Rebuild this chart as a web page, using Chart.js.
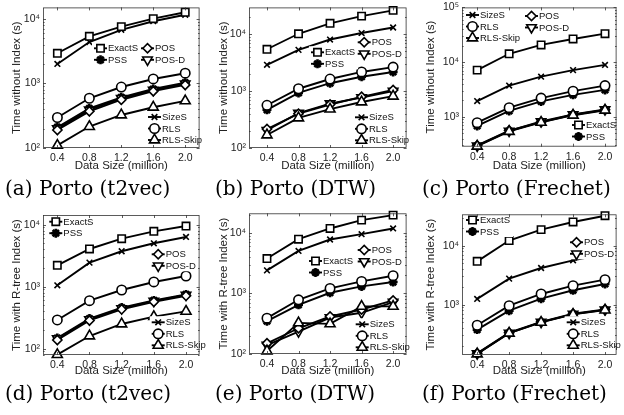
<!DOCTYPE html>
<html>
<head>
<meta charset="utf-8">
<script src="https://cdn.jsdelivr.net/npm/chart.js@4.4.0/dist/chart.umd.min.js"></script>
<style>
  body { margin: 0; background: #fff; width: 624px; height: 415px; position: relative; overflow: hidden; }
  canvas { position: absolute; }
  .cap { position: absolute; font-family: "DejaVu Serif", serif; font-size: 20px; white-space: nowrap; color: #000; }
</style>
</head>
<body>
<canvas id="ca" width="207" height="178" style="left:0px;top:0px"></canvas>
<canvas id="cb" width="207" height="178" style="left:207px;top:0px"></canvas>
<canvas id="cc" width="210" height="178" style="left:414px;top:0px"></canvas>
<canvas id="cd" width="207" height="178" style="left:0px;top:205px"></canvas>
<canvas id="ce" width="207" height="178" style="left:207px;top:205px"></canvas>
<canvas id="cf" width="210" height="178" style="left:414px;top:205px"></canvas>
<div class="cap" style="left:5px;top:176px">(a) Porto (t2vec)</div>
<div class="cap" style="left:215px;top:176px">(b) Porto (DTW)</div>
<div class="cap" style="left:422px;top:176px">(c) Porto (Frechet)</div>
<div class="cap" style="left:5px;top:381px">(d) Porto (t2vec)</div>
<div class="cap" style="left:215px;top:381px">(e) Porto (DTW)</div>
<div class="cap" style="left:422px;top:381px">(f) Porto (Frechet)</div>
<script>
// data size in million trajectories
const sizes = [0.4, 0.8, 1.2, 1.6, 2.0];
const xTicks = [0.4, 0.8, 1.2, 1.6, 2.0];
const yTickLabels = { 1: '10¹', 2: '10²', 3: '10³', 4: '10⁴', 5: '10⁵' };

// (a) t2vec, without index
const aExactS = [2940, 5380, 7600, 10100, 12700];
const aSizeS = [2010, 4380, 6780, 9220, 11600];
const aPSS = [210, 410, 610, 820, 1030];
const aPOS = [190, 370, 560, 760, 950];
const aPOSD = [200, 390, 590, 790, 990];
const aRLS = [297, 590, 881, 1175, 1442];
const aRLSSkip = [110, 215, 325, 428, 538];

// (b) DTW, without index
const bExactS = [5400, 10100, 15400, 20600, 26000];
const bSizeS = [2880, 5270, 8000, 10400, 13000];
const bPSS = [468, 925, 1370, 1780, 2160];
const bPOS = [215, 400, 580, 790, 1040];
const bPOSD = [205, 410, 600, 770, 1000];
const bRLS = [562, 1096, 1623, 2160, 2630];
const bRLSSkip = [169, 337, 481, 641, 811];

// (c) Frechet, without index
const cExactS = [7130, 14200, 20600, 26500, 33100];
const cSizeS = [1940, 3720, 5410, 7130, 8890];
const cPSS = [680, 1280, 1910, 2520, 3100];
const cPOS = [300, 560, 800, 1090, 1340];
const cPOSD = [295, 550, 820, 1100, 1360];
const cRLS = [780, 1470, 2200, 2940, 3720];
const cRLSSkip = [290, 540, 790, 1070, 1320];

// (d) t2vec, with R-tree index
const dExactS = [2210, 4050, 5940, 7800, 9500];
const dSizeS = [1050, 2440, 3720, 5000, 6330];
const dPSS = [148, 305, 460, 600, 750];
const dPOS = [138, 285, 430, 570, 710];
const dPOSD = [145, 295, 445, 585, 735];
const dRLS = [290, 594, 883, 1190, 1485];
const dRLSSkip = [80, 160, 250, 328, 400];

// (e) DTW, with R-tree index
const eExactS = [3760, 7850, 11800, 16200, 19600];
const eSizeS = [2400, 5030, 7760, 9500, 11800];
const ePSS = [348, 649, 1025, 1306, 1540];
const ePOS = [150, 266, 416, 543, 766];
const ePOSD = [140, 234, 400, 479, 718];
const eRLS = [390, 785, 1210, 1580, 1960];
const eRLSSkip = [112, 326, 314, 610, 610];

// (f) Frechet, with R-tree index
const fExactS = [5420, 12200, 18700, 25200, 32200];
const fSizeS = [1250, 2760, 4180, 5640, 7220];
const fPSS = [377, 791, 1264, 1750, 2240];
const fPOS = [150, 335, 510, 700, 830];
const fPOSD = [148, 330, 505, 690, 815];
const fRLS = [447, 962, 1517, 2100, 2650];
const fRLSSkip = [146, 328, 500, 685, 810];

const markers = {
  'ExactS':   { pointStyle: 'rect', pointRadius: 5.2, fill: '#fff' },
  'SizeS':    { pointStyle: 'crossRot', pointRadius: 4, fill: '#000' },
  'PSS':      { pointStyle: 'star', pointRadius: 4.5, fill: '#000', pointBorderWidth: 2.6 },
  'POS':      { pointStyle: 'rectRot', pointRadius: 4.6, fill: '#fff' },
  'POS-D':    { pointStyle: 'triangle', pointRadius: 5.5, fill: '#fff', pointRotation: 180 },
  'RLS':      { pointStyle: 'circle', pointRadius: 4.7, fill: '#fff' },
  'RLS-Skip': { pointStyle: 'triangle', pointRadius: 5.8, fill: '#fff' }
};

const SANS = '"Liberation Sans", Arial, Helvetica, sans-serif';
const ROW = 11.5;

function makeSet(name, vals) {
  const m = markers[name];
  return {
    label: name,
    data: sizes.map((x, i) => ({ x: x, y: vals[i] })),
    borderColor: '#000',
    borderWidth: 1.9,
    pointStyle: m.pointStyle,
    pointRadius: m.pointRadius,
    pointRotation: m.pointRotation || 0,
    pointBackgroundColor: m.fill,
    pointBorderColor: '#000',
    pointBorderWidth: m.pointBorderWidth || 1.6,
    tension: 0,
    clip: false
  };
}

// legend groups drawn inside the plot, like the MATLAB figure
const groupLegend = {
  id: 'groupLegend',
  afterDatasetsDraw(chart, args, opts) {
    const ctx = chart.ctx;
    ctx.save();
    ctx.font = '9.5px ' + SANS;
    ctx.textBaseline = 'middle';
    (opts.groups || []).forEach(g => {
      const sets = g.names.map(n => chart.data.datasets.find(d => d.label === n));
      const tw = Math.max(...sets.map(d => ctx.measureText(d.label).width));
      ctx.fillStyle = '#fff';
      ctx.fillRect(g.x - 2, g.y - 6, 16 + tw + 3, sets.length * ROW);
      sets.forEach((d, i) => {
        const y = g.y + i * ROW;
        ctx.strokeStyle = '#000';
        ctx.lineWidth = d.borderWidth;
        ctx.beginPath();
        ctx.moveTo(g.x, y);
        ctx.lineTo(g.x + 13, y);
        ctx.stroke();
        ctx.fillStyle = d.pointBackgroundColor;
        ctx.lineWidth = d.pointBorderWidth;
        Chart.helpers.drawPoint(ctx, {
          pointStyle: d.pointStyle, radius: d.pointRadius,
          rotation: d.pointRotation, borderWidth: d.pointBorderWidth
        }, g.x + 6.5, y);
        ctx.fillStyle = '#111';
        ctx.fillText(d.label, g.x + 14, y + 0.5);
      });
    });
    ctx.restore();
  }
};

// axes box and inward tick marks
const boxTicks = {
  id: 'boxTicks',
  afterDraw(chart) {
    const { ctx, chartArea: a } = chart;
    const xs = chart.scales.x, ys = chart.scales.y;
    ctx.save();
    ctx.strokeStyle = '#333';
    ctx.lineWidth = 0.8;
    ctx.strokeRect(a.left + 0.5, a.top + 0.5, a.right - a.left - 1, a.bottom - a.top - 1);
    ctx.beginPath();
    xTicks.forEach(v => {
      const px = Math.round(xs.getPixelForValue(v)) + 0.5;
      ctx.moveTo(px, a.bottom); ctx.lineTo(px, a.bottom - 3);
      ctx.moveTo(px, a.top); ctx.lineTo(px, a.top + 3);
    });
    for (let e = 1; e <= 5; e++) {
      for (let k = 1; k <= 9; k++) {
        const v = k * Math.pow(10, e);
        if (v < ys.min || v > ys.max) continue;
        const py = Math.round(ys.getPixelForValue(v)) + 0.5;
        const len = k === 1 ? 3 : 1.6;
        ctx.moveTo(a.left, py); ctx.lineTo(a.left + len, py);
        ctx.moveTo(a.right, py); ctx.lineTo(a.right - len, py);
      }
    }
    ctx.stroke();
    ctx.restore();
  }
};

function panel(id, box, rect, xr, yr, yTitle, series, groups) {
  const [x0, y0, w, h] = box;
  const [L, T, R, B] = rect;
  const loc = groups.map(g => ({ x: g.x - x0, y: g.y - y0, names: g.names }));
  new Chart(document.getElementById(id), {
    type: 'line',
    data: { datasets: series.map(s => makeSet(s[0], s[1])) },
    options: {
      responsive: false,
      animation: false,
      devicePixelRatio: 1,
      events: [],
      layout: { padding: { left: 0, top: T - y0, right: x0 + w - R, bottom: 0 } },
      plugins: {
        legend: { display: false },
        tooltip: { enabled: false },
        groupLegend: { groups: loc }
      },
      scales: {
        x: {
          type: 'linear',
          min: xr[0], max: xr[1],
          grid: { display: false, drawTicks: false },
          border: { display: false },
          afterBuildTicks: s => { s.ticks = xTicks.map(v => ({ value: v })); },
          afterFit: s => { s.height = y0 + h - B; s.paddingLeft = 0; s.paddingRight = 0; },
          ticks: {
            padding: 4, color: '#222', maxRotation: 0, autoSkip: false,
            font: { family: SANS, size: 10.5 },
            callback: v => v.toFixed(1)
          },
          title: {
            display: true, text: 'Data Size (million)', color: '#222',
            font: { family: SANS, size: 11.5 }, padding: { top: 0, bottom: 5 }
          }
        },
        y: {
          type: 'logarithmic',
          min: yr[0], max: yr[1],
          grid: { display: false, drawTicks: false },
          border: { display: false },
          afterBuildTicks: s => {
            s.ticks = s.ticks.filter(t => Math.abs(Math.log10(t.value) - Math.round(Math.log10(t.value))) < 1e-9);
          },
          afterFit: s => { s.width = L - x0; s.paddingTop = 0; s.paddingBottom = 0; },
          ticks: {
            padding: 3, color: '#222', autoSkip: false,
            font: { family: SANS, size: 10.5 },
            callback: v => yTickLabels[Math.round(Math.log10(v))]
          },
          title: {
            display: true, text: yTitle, color: '#222',
            font: { family: SANS, size: 11.5 }, padding: { top: 10, bottom: 0 }
          }
        }
      }
    },
    plugins: [groupLegend, boxTicks]
  });
}

const G1 = ['ExactS', 'PSS'], G2 = ['POS', 'POS-D'], G3 = ['SizeS', 'RLS', 'RLS-Skip'];
const noIdx = 'Time without Index (s)', rIdx = 'Time with R-tree Index (s)';

panel('ca', [0, 0, 207, 178], [43, 2, 204, 148], [0.22, 2.18], [100, 15100], noIdx,
  [['ExactS', aExactS], ['SizeS', aSizeS], ['RLS', aRLS], ['RLS-Skip', aRLSSkip], ['POS', aPOS], ['POS-D', aPOSD], ['PSS', aPSS]],
  [{ x: 94, y: 48.3, names: G1 }, { x: 141, y: 48.3, names: G2 }, { x: 148, y: 117, names: G3 }]);

panel('cb', [207, 0, 207, 178], [249, 4, 413, 148], [0.172, 2.171], [100, 29300], noIdx,
  [['ExactS', bExactS], ['SizeS', bSizeS], ['RLS', bRLS], ['PSS', bPSS], ['RLS-Skip', bRLSSkip], ['POS', bPOS], ['POS-D', bPOSD]],
  [{ x: 311, y: 52.3, names: G1 }, { x: 357.7, y: 42.3, names: G2 }, { x: 355, y: 117.3, names: G3 }]);

panel('cc', [414, 0, 210, 178], [462, 5.3, 622, 146.7], [0.21, 2.145], [284, 100000], noIdx,
  [['ExactS', cExactS], ['SizeS', cSizeS], ['RLS', cRLS], ['PSS', cPSS], ['RLS-Skip', cRLSSkip], ['POS', cPOS], ['POS-D', cPOSD]],
  [{ x: 572, y: 125, names: G1 }, { x: 525, y: 16, names: G2 }, { x: 466, y: 15, names: G3 }]);

panel('cd', [0, 205, 207, 178], [43, 215, 204, 355], [0.222, 2.169], [79, 14300], rIdx,
  [['ExactS', dExactS], ['SizeS', dSizeS], ['RLS', dRLS], ['RLS-Skip', dRLSSkip], ['POS', dPOS], ['POS-D', dPOSD], ['PSS', dPSS]],
  [{ x: 49.3, y: 221.7, names: G1 }, { x: 151.7, y: 254.3, names: G2 }, { x: 151.7, y: 322.3, names: G3 }]);

panel('ce', [207, 205, 207, 178], [249, 213.3, 413, 354], [0.172, 2.171], [100, 21000], rIdx,
  [['ExactS', eExactS], ['SizeS', eSizeS], ['RLS', eRLS], ['PSS', ePSS], ['RLS-Skip', eRLSSkip], ['POS', ePOS], ['POS-D', ePOSD]],
  [{ x: 309, y: 261, names: G1 }, { x: 357.7, y: 250, names: G2 }, { x: 355.7, y: 324.3, names: G3 }]);

panel('cf', [414, 205, 210, 178], [462, 214.3, 622, 355], [0.21, 2.145], [140, 34000], rIdx,
  [['ExactS', fExactS], ['SizeS', fSizeS], ['RLS', fRLS], ['PSS', fPSS], ['RLS-Skip', fRLSSkip], ['POS', fPOS], ['POS-D', fPOSD]],
  [{ x: 466, y: 220, names: G1 }, { x: 570, y: 242.3, names: G2 }, { x: 566.7, y: 322.3, names: G3 }]);
</script>
</body>
</html>
